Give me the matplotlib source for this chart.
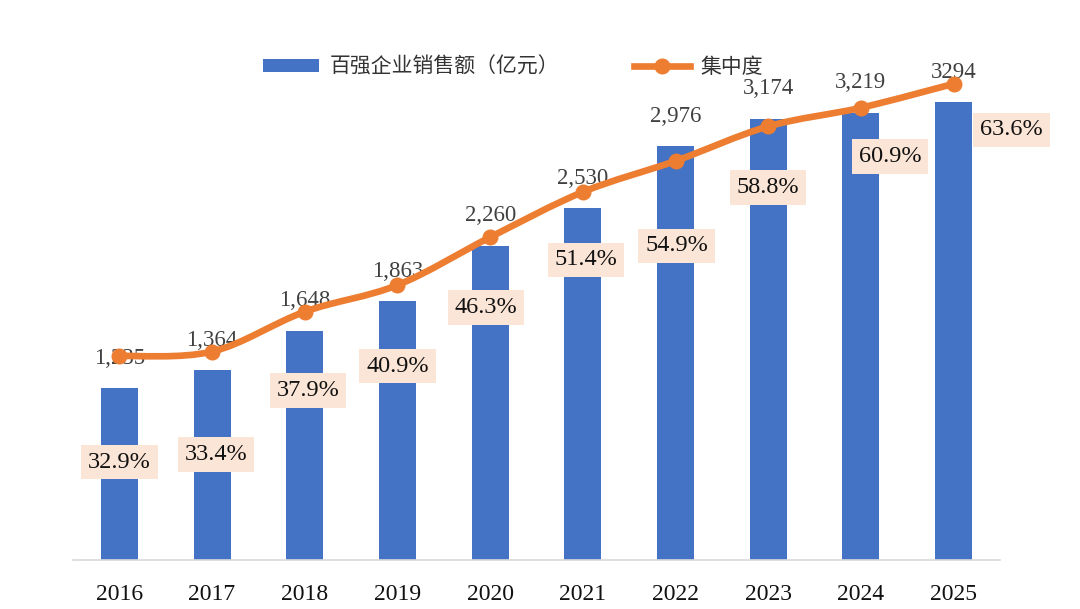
import matplotlib
matplotlib.use("Agg")
import matplotlib.pyplot as plt
from matplotlib.path import Path
from matplotlib.patches import PathPatch, Patch
from matplotlib.lines import Line2D
import numpy as np

plt.rcParams['font.family'] = ['Liberation Serif', 'Noto Sans CJK SC', 'DejaVu Sans']

# data
years = ["2016", "2017", "2018", "2019", "2020", "2021", "2022", "2023", "2024", "2025"]
sales = [1235, 1364, 1648, 1863, 2260, 2530, 2976, 3174, 3219, 3294]
sales_labels = ["1,235", "1,364", "1,648", "1,863", "2,260", "2,530", "2,976", "3,174", "3,219", "3294"]
share = [32.9, 33.4, 37.9, 40.9, 46.3, 51.4, 54.9, 58.8, 60.9, 63.6]

# where the % boxes sit relative to each line point (pixels)
pct_offsets = [(0, -106), (4, -103), (3, -79), (0, -81), (-4, -70),
               (3, -68), (1, -85), (0, -61), (29, -49), (58, -46)]

BLUE = "#4472C4"
ORANGE = "#ED7D31"
PEACH = "#FBE5D6"

W, H = 1080, 609
fig = plt.figure(figsize=(W / 100, H / 100), dpi=100)
# axes from x=73..1000 px, y=4..560 px (from top)
ax = fig.add_axes([73 / W, (H - 560) / H, (1000 - 73) / W, (560 - 4) / H])
ax2 = ax.twinx()

x = np.arange(len(years))
ax.bar(x, sales, width=0.4, color=BLUE, zorder=2)
ax.set_xlim(-0.5, len(years) - 0.5)
ax.set_ylim(0, 4000)

for xi, v, lab in zip(x, sales, sales_labels):
    ax.annotate(lab, (xi, v), xytext=(0, 30), textcoords='offset pixels',
                ha='center', va='center', fontsize=16.5, color='#404040', zorder=3)

# smoothed line (Catmull-Rom -> cubic bezier) like the spreadsheet's smooth line
pts = np.column_stack([x, share]).astype(float)
ext = np.vstack([pts[0], pts, pts[-1]])
verts = [tuple(pts[0])]
codes = [Path.MOVETO]
for i in range(1, len(ext) - 2):
    p0, p1, p2, p3 = ext[i - 1], ext[i], ext[i + 1], ext[i + 2]
    c1 = p1 + (p2 - p0) / 6
    c2 = p2 - (p3 - p1) / 6
    verts += [tuple(c1), tuple(c2), tuple(p2)]
    codes += [Path.CURVE4] * 3
ax2.add_patch(PathPatch(Path(verts, codes), facecolor='none', edgecolor=ORANGE,
                        lw=4.8, capstyle='round', joinstyle='round', zorder=4))
ax2.plot(x, share, 'o', color=ORANGE, markersize=10.5, zorder=5)
ax2.set_ylim(9.9, 72.6)

for xi, v, (dx, dy) in zip(x, share, pct_offsets):
    ax2.annotate(f"{v:.1f}%", (xi, v), xytext=(dx, dy), textcoords='offset pixels',
                 ha='center', va='center', fontsize=17.5, color='#111111', zorder=6,
                 bbox=dict(boxstyle='square,pad=0.28', facecolor=PEACH, edgecolor='none'))

for a in (ax, ax2):
    for s in ('top', 'right', 'left'):
        a.spines[s].set_visible(False)
    a.set_yticks([])
ax2.spines['bottom'].set_visible(False)
ax.spines['bottom'].set_color('#D9D9D9')
ax.spines['bottom'].set_linewidth(1.2)
ax.set_xticks(x)
ax.set_xticklabels(years, fontsize=17, color='#111111')
ax.tick_params(axis='x', length=0, pad=17)

handles = [Patch(facecolor=BLUE, edgecolor='none'),
           Line2D([0], [0], color=ORANGE, lw=4.8, marker='o', markersize=10.5)]
fig.legend(handles, ["百强企业销售额（亿元）", "集中度"], loc='center',
           bbox_to_anchor=(513 / W, (H - 68) / H), ncol=2, frameon=False,
           fontsize=15, handlelength=2.7, handleheight=0.6, handletextpad=0.5,
           columnspacing=3.6, labelcolor='#333333')

fig.savefig("out.png", dpi=100)
